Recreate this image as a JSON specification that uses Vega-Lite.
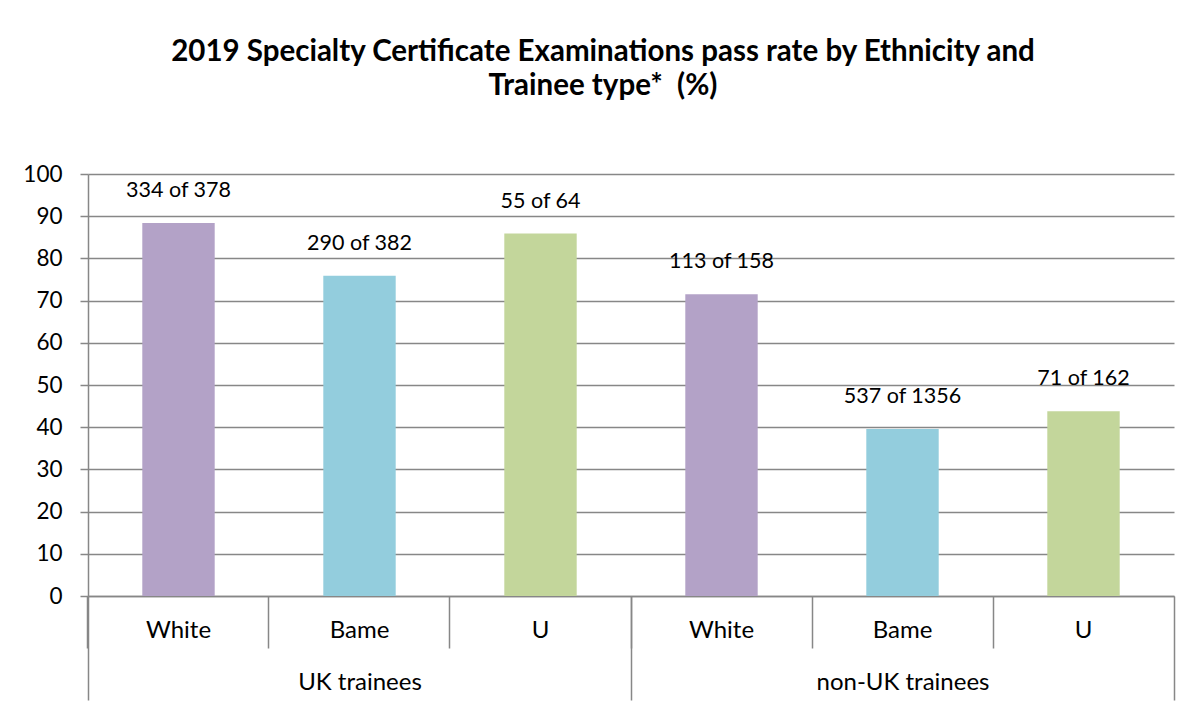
{
  "$schema": "https://vega.github.io/schema/vega-lite/v6.json",
  "width": 1086,
  "height": 422,
  "autosize": {"type": "none"},
  "padding": {"left": 88, "top": 174, "right": 26, "bottom": 123},
  "background": "#ffffff",
  "config": {
    "font": "Lato",
    "view": {"stroke": null}
  },
  "title": {
    "text": ["2019 Specialty Certificate Examinations pass rate by Ethnicity and", "Trainee type*\u00a0 (%)"],
    "font": "Lato",
    "fontSize": 29.5,
    "fontWeight": "bold",
    "color": "#000000",
    "anchor": "middle",
    "frame": "group",
    "dx": -28,
    "offset": 62,
    "lineHeight": 34
  },
  "data": {
    "values": [
      {"key": "UK trainees|White", "group": "UK trainees", "group_index": 0, "ethnicity": "White", "rate": 88.4, "label": "334 of 378"},
      {"key": "UK trainees|Bame", "group": "UK trainees", "group_index": 0, "ethnicity": "Bame", "rate": 75.9, "label": "290 of 382"},
      {"key": "UK trainees|U", "group": "UK trainees", "group_index": 0, "ethnicity": "U", "rate": 85.9, "label": "55 of 64"},
      {"key": "non-UK trainees|White", "group": "non-UK trainees", "group_index": 1, "ethnicity": "White", "rate": 71.5, "label": "113 of 158"},
      {"key": "non-UK trainees|Bame", "group": "non-UK trainees", "group_index": 1, "ethnicity": "Bame", "rate": 39.6, "label": "537 of 1356"},
      {"key": "non-UK trainees|U", "group": "non-UK trainees", "group_index": 1, "ethnicity": "U", "rate": 43.8, "label": "71 of 162"}
    ]
  },
  "encoding": {
    "y": {
      "field": "rate",
      "type": "quantitative",
      "scale": {"domain": [0, 100], "nice": false},
      "axis": {
        "title": null,
        "values": [0, 10, 20, 30, 40, 50, 60, 70, 80, 90, 100],
        "tickSize": 8,
        "tickColor": "#878787",
        "tickWidth": 1.5,
        "domainColor": "#878787",
        "domainWidth": 1.5,
        "grid": true,
        "gridColor": "#878787",
        "gridWidth": 1.5,
        "labelPadding": 18,
        "labelFontSize": 22.5,
        "labelColor": "#000000",
        "labelFont": "Lato"
      }
    }
  },
  "layer": [
    {
      "encoding": {
        "x": {
          "field": "key",
          "type": "nominal",
          "sort": null,
          "scale": {"paddingInner": 0.6, "paddingOuter": 0.3},
          "axis": {
            "title": null,
            "orient": "bottom",
            "labelExpr": "split(datum.value, '|')[1]",
            "labelAngle": 0,
            "bandPosition": -0.75,
            "tickSize": 52,
            "tickColor": "#878787",
            "tickWidth": 1.5,
            "domainColor": "#878787",
            "domainWidth": 1.5,
            "grid": false,
            "labelPadding": -18,
            "labelBaseline": "middle",
            "labelFontSize": 24,
            "labelColor": "#000000",
            "labelFont": "Lato"
          }
        }
      },
      "layer": [
        {
          "mark": {"type": "bar"},
          "encoding": {
            "color": {
              "field": "ethnicity",
              "type": "nominal",
              "scale": {"domain": ["White", "Bame", "U"], "range": ["#B3A2C7", "#93CDDD", "#C3D69B"]},
              "legend": null
            }
          }
        },
        {
          "mark": {"type": "text", "baseline": "middle", "align": "center", "dy": -32, "fontSize": 21.5, "font": "Lato", "color": "#000000"},
          "encoding": {
            "text": {"field": "label"}
          }
        }
      ]
    },
    {
      "mark": {"type": "point", "opacity": 0},
      "encoding": {
        "x": {
          "field": "group_index",
          "type": "quantitative",
          "scale": {"domain": [0, 2], "nice": false, "zero": false},
          "axis": {
            "title": null,
            "orient": "bottom",
            "values": [0, 1, 2],
            "labelExpr": "datum.value == 0 ? 'UK trainees' : datum.value == 1 ? 'non-UK trainees' : ''",
            "labelFlush": false,
            "labelOverlap": false,
            "labelOffset": 271.5,
            "tickSize": 104,
            "tickColor": "#878787",
            "tickWidth": 1.5,
            "domain": false,
            "grid": false,
            "labelPadding": -18,
            "labelBaseline": "middle",
            "labelFontSize": 24,
            "labelColor": "#000000",
            "labelFont": "Lato"
          }
        }
      }
    }
  ],
  "resolve": {"scale": {"x": "independent"}, "axis": {"x": "independent"}}
}
